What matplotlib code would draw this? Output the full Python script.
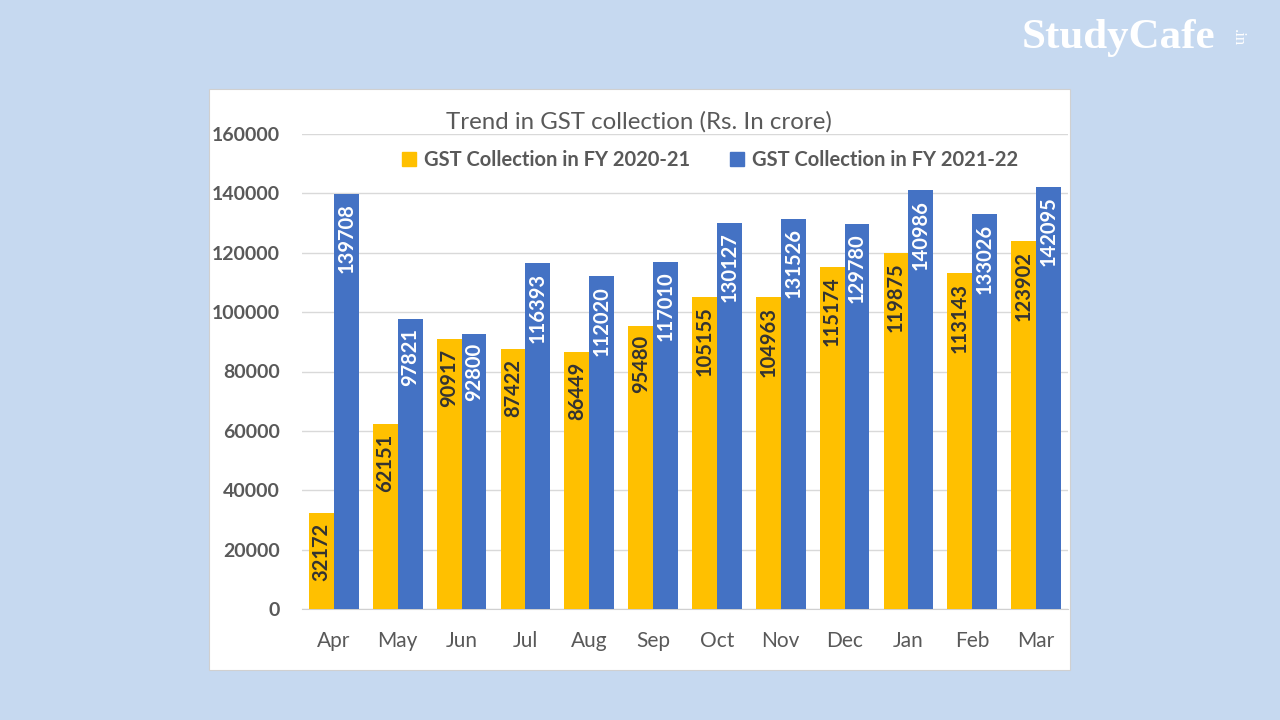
import numpy as np
import matplotlib.pyplot as plt
from matplotlib.patches import Rectangle, Patch

# ── Data ──────────────────────────────────────────────────────────────────────
months = ["Apr", "May", "Jun", "Jul", "Aug", "Sep", "Oct", "Nov", "Dec", "Jan", "Feb", "Mar"]
gst_2020_21 = [32172, 62151, 90917, 87422, 86449, 95480, 105155, 104963, 115174, 119875, 113143, 123902]
gst_2021_22 = [139708, 97821, 92800, 116393, 112020, 117010, 130127, 131526, 129780, 140986, 133026, 142095]
y_ticks = [0, 20000, 40000, 60000, 80000, 100000, 120000, 140000, 160000]

YELLOW = "#FFC000"
BLUE = "#4472C4"
GREY = "#595959"
BG = "#C6D9F0"

plt.rcParams["font.family"] = ["Lato", "DejaVu Sans"]

fig = plt.figure(figsize=(12.8, 7.2), dpi=100)
fig.patch.set_facecolor(BG)

# white chart panel
fig.patches.append(Rectangle((209 / 1280, 1 - 670 / 720), 861 / 1280, 581 / 720,
                             transform=fig.transFigure, facecolor="white",
                             edgecolor="#d0d0d0", linewidth=0.8, zorder=-5))

ax = fig.add_axes([302 / 1280, 1 - 609 / 720, 766 / 1280, 475 / 720])
ax.set_facecolor("none")

x = np.arange(len(months))
w = 0.39
ax.bar(x - w / 2, gst_2020_21, width=w, color=YELLOW, zorder=3)
ax.bar(x + w / 2, gst_2021_22, width=w, color=BLUE, zorder=3)

# value labels, rotated, just inside the top of each bar
for xi, v in zip(x, gst_2020_21):
    ax.text(xi - w / 2, v - 3200, f"{v}", rotation=90, ha="center", va="top",
            fontsize=14.5, fontweight="bold", color="#333333", zorder=4)
for xi, v in zip(x, gst_2021_22):
    ax.text(xi + w / 2, v - 3200, f"{v}", rotation=90, ha="center", va="top",
            fontsize=14.5, fontweight="bold", color="white", zorder=4)

ax.set_xlim(-0.5, len(months) - 0.5)
ax.set_ylim(0, 160000)
ax.set_yticks(y_ticks)
ax.set_yticklabels([str(t) for t in y_ticks], fontsize=14, fontweight="bold", color=GREY)
ax.set_xticks(x)
ax.set_xticklabels(months, fontsize=15, color=GREY)
ax.tick_params(axis="y", length=0, pad=16)
ax.tick_params(axis="x", length=0, pad=16)
ax.grid(axis="y", color="#d9d9d9", linewidth=1.0, zorder=0)
for s in ["top", "right", "left"]:
    ax.spines[s].set_visible(False)
ax.spines["bottom"].set_color("#d0d0d0")

fig.text(639 / 1280, 1 - 122 / 720, "Trend in GST collection (Rs. In crore)",
         ha="center", va="center", fontsize=17.3, color=GREY)

handles = [Patch(color=YELLOW, label="GST Collection in FY 2020-21"),
           Patch(color=BLUE, label="GST Collection in FY 2021-22")]
leg = fig.legend(handles=handles, loc="center", ncol=2,
                 bbox_to_anchor=(710 / 1280, 1 - 160 / 720), frameon=False,
                 handlelength=0.7, handleheight=0.7, handletextpad=0.4,
                 columnspacing=2.0, prop={"size": 14.5, "weight": "bold"})
for t in leg.get_texts():
    t.set_color(GREY)

# logo
fig.text(1118 / 1280, 1 - 38 / 720, "StudyCafe", ha="center", va="center",
         fontsize=31, fontweight="bold", color="white", family="Liberation Serif")
fig.text(1238 / 1280, 1 - 38 / 720, ".in", ha="center", va="center", rotation=-90,
         fontsize=12, color="white", family="Liberation Serif")

fig.savefig("out.png", dpi=100, facecolor=fig.get_facecolor())
